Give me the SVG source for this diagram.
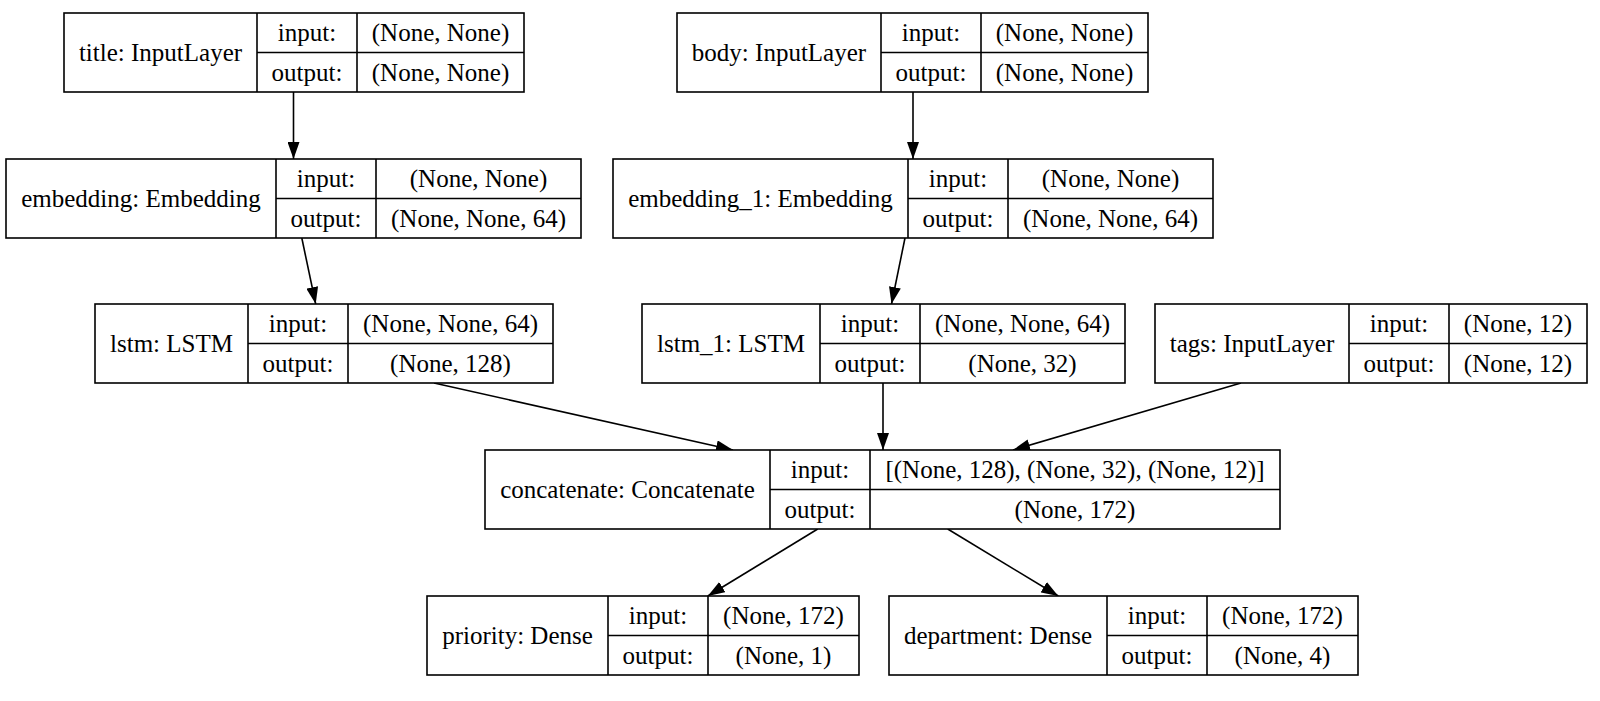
<svg xmlns="http://www.w3.org/2000/svg" width="1600" height="701" viewBox="0 0 1600 701">
<style>
.box{fill:#fff;stroke:#000;stroke-width:1.6}
.sep{stroke:#000;stroke-width:1.6}
text{font-family:'Liberation Serif',Tinos,'Times New Roman',Times,'DejaVu Serif',serif;font-size:25px;fill:#000;text-anchor:middle}
.edge{stroke:#000;stroke-width:1.6;fill:none;marker-end:url(#arr)}
</style>
<defs>
<marker id="arr" viewBox="0 0 17 12" refX="17" refY="6" markerWidth="17" markerHeight="12" orient="auto" markerUnits="userSpaceOnUse">
<path d="M0,0 L17,6 L0,12 z" fill="#000"/>
</marker>
</defs>
<rect width="1600" height="701" fill="#fff"/>
<g id="edges">
<line class="edge" x1="293.5" y1="92" x2="293.5" y2="159"/>
<line class="edge" x1="913" y1="92" x2="913" y2="159"/>
<line class="edge" x1="301.8" y1="238" x2="315.7" y2="304"/>
<line class="edge" x1="905" y1="238" x2="891.5" y2="304"/>
<line class="edge" x1="434" y1="383" x2="733" y2="450"/>
<line class="edge" x1="883" y1="383" x2="883" y2="450"/>
<line class="edge" x1="1241" y1="383" x2="1013" y2="450"/>
<line class="edge" x1="817.7" y1="529" x2="707.8" y2="596"/>
<line class="edge" x1="947.7" y1="529" x2="1058.3" y2="596"/>
</g>
<g font-family="Liberation Serif, Times New Roman, serif">
<g id="title">
<rect class="box" x="64" y="13" width="460" height="79"/>
<line class="sep" x1="257" y1="13" x2="257" y2="92"/>
<line class="sep" x1="357" y1="13" x2="357" y2="92"/>
<line class="sep" x1="257" y1="52.5" x2="524" y2="52.5"/>
<text x="160.5" y="61">title: InputLayer</text>
<text x="307" y="41">input:</text>
<text x="307" y="80.5">output:</text>
<text x="440.5" y="41">(None, None)</text>
<text x="440.5" y="80.5">(None, None)</text>
</g>
<g id="body">
<rect class="box" x="677" y="13" width="471" height="79"/>
<line class="sep" x1="881" y1="13" x2="881" y2="92"/>
<line class="sep" x1="981" y1="13" x2="981" y2="92"/>
<line class="sep" x1="881" y1="52.5" x2="1148" y2="52.5"/>
<text x="779" y="61">body: InputLayer</text>
<text x="931" y="41">input:</text>
<text x="931" y="80.5">output:</text>
<text x="1064.5" y="41">(None, None)</text>
<text x="1064.5" y="80.5">(None, None)</text>
</g>
<g id="embedding">
<rect class="box" x="6" y="159" width="575" height="79"/>
<line class="sep" x1="276" y1="159" x2="276" y2="238"/>
<line class="sep" x1="376" y1="159" x2="376" y2="238"/>
<line class="sep" x1="276" y1="198.5" x2="581" y2="198.5"/>
<text x="141" y="207">embedding: Embedding</text>
<text x="326" y="187">input:</text>
<text x="326" y="226.5">output:</text>
<text x="478.5" y="187">(None, None)</text>
<text x="478.5" y="226.5">(None, None, 64)</text>
</g>
<g id="embedding_1">
<rect class="box" x="613" y="159" width="600" height="79"/>
<line class="sep" x1="908" y1="159" x2="908" y2="238"/>
<line class="sep" x1="1008" y1="159" x2="1008" y2="238"/>
<line class="sep" x1="908" y1="198.5" x2="1213" y2="198.5"/>
<text x="760.5" y="207">embedding_1: Embedding</text>
<text x="958" y="187">input:</text>
<text x="958" y="226.5">output:</text>
<text x="1110.5" y="187">(None, None)</text>
<text x="1110.5" y="226.5">(None, None, 64)</text>
</g>
<g id="lstm">
<rect class="box" x="95" y="304" width="458" height="79"/>
<line class="sep" x1="248" y1="304" x2="248" y2="383"/>
<line class="sep" x1="348" y1="304" x2="348" y2="383"/>
<line class="sep" x1="248" y1="343.5" x2="553" y2="343.5"/>
<text x="171.5" y="352">lstm: LSTM</text>
<text x="298" y="332">input:</text>
<text x="298" y="371.5">output:</text>
<text x="450.5" y="332">(None, None, 64)</text>
<text x="450.5" y="371.5">(None, 128)</text>
</g>
<g id="lstm_1">
<rect class="box" x="642" y="304" width="483" height="79"/>
<line class="sep" x1="820" y1="304" x2="820" y2="383"/>
<line class="sep" x1="920" y1="304" x2="920" y2="383"/>
<line class="sep" x1="820" y1="343.5" x2="1125" y2="343.5"/>
<text x="731" y="352">lstm_1: LSTM</text>
<text x="870" y="332">input:</text>
<text x="870" y="371.5">output:</text>
<text x="1022.5" y="332">(None, None, 64)</text>
<text x="1022.5" y="371.5">(None, 32)</text>
</g>
<g id="tags">
<rect class="box" x="1155" y="304" width="432" height="79"/>
<line class="sep" x1="1349" y1="304" x2="1349" y2="383"/>
<line class="sep" x1="1449" y1="304" x2="1449" y2="383"/>
<line class="sep" x1="1349" y1="343.5" x2="1587" y2="343.5"/>
<text x="1252" y="352">tags: InputLayer</text>
<text x="1399" y="332">input:</text>
<text x="1399" y="371.5">output:</text>
<text x="1518" y="332">(None, 12)</text>
<text x="1518" y="371.5">(None, 12)</text>
</g>
<g id="concatenate">
<rect class="box" x="485" y="450" width="795" height="79"/>
<line class="sep" x1="770" y1="450" x2="770" y2="529"/>
<line class="sep" x1="870" y1="450" x2="870" y2="529"/>
<line class="sep" x1="770" y1="489.5" x2="1280" y2="489.5"/>
<text x="627.5" y="498">concatenate: Concatenate</text>
<text x="820" y="478">input:</text>
<text x="820" y="517.5">output:</text>
<text x="1075" y="478">[(None, 128), (None, 32), (None, 12)]</text>
<text x="1075" y="517.5">(None, 172)</text>
</g>
<g id="priority">
<rect class="box" x="427" y="596" width="432" height="79"/>
<line class="sep" x1="608" y1="596" x2="608" y2="675"/>
<line class="sep" x1="708" y1="596" x2="708" y2="675"/>
<line class="sep" x1="608" y1="635.5" x2="859" y2="635.5"/>
<text x="517.5" y="644">priority: Dense</text>
<text x="658" y="624">input:</text>
<text x="658" y="663.5">output:</text>
<text x="783.5" y="624">(None, 172)</text>
<text x="783.5" y="663.5">(None, 1)</text>
</g>
<g id="department">
<rect class="box" x="889" y="596" width="469" height="79"/>
<line class="sep" x1="1107" y1="596" x2="1107" y2="675"/>
<line class="sep" x1="1207" y1="596" x2="1207" y2="675"/>
<line class="sep" x1="1107" y1="635.5" x2="1358" y2="635.5"/>
<text x="998" y="644">department: Dense</text>
<text x="1157" y="624">input:</text>
<text x="1157" y="663.5">output:</text>
<text x="1282.5" y="624">(None, 172)</text>
<text x="1282.5" y="663.5">(None, 4)</text>
</g>
</g>
</svg>
